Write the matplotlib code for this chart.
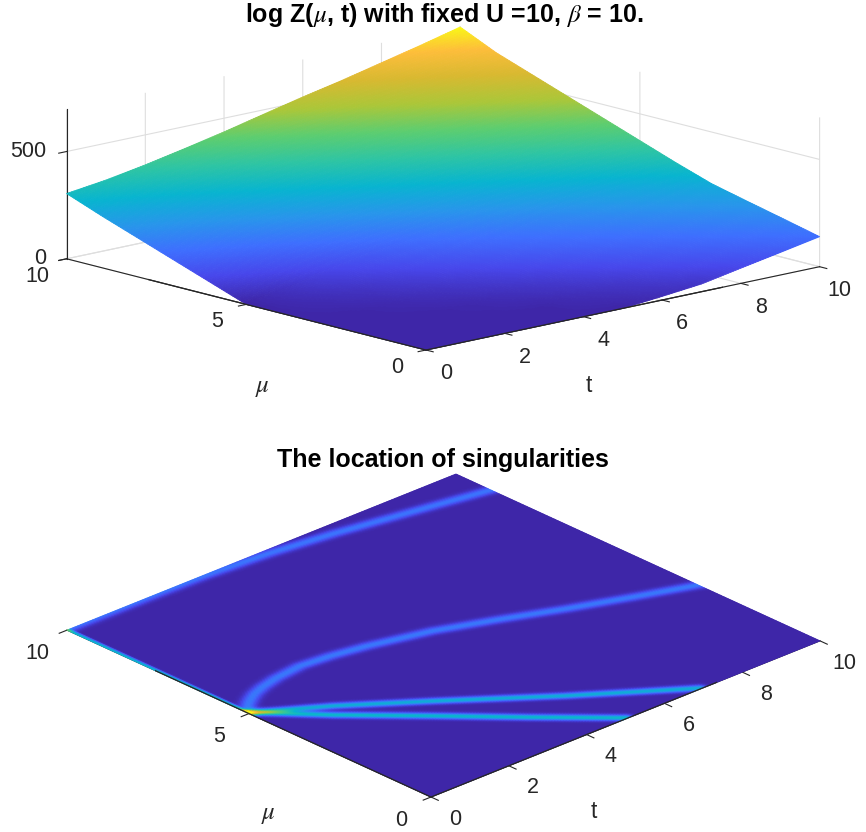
import numpy as np
import matplotlib
matplotlib.use("Agg")
import matplotlib.pyplot as plt
from matplotlib.colors import LinearSegmentedColormap
from mpl_toolkits.mplot3d import proj3d

plt.rcParams['font.family'] = ['Liberation Sans', 'DejaVu Sans']
plt.rcParams['mathtext.fontset'] = 'stix'

# ---- data ----
t_values = [0, 1, 2, 3, 4, 5, 6, 7, 8, 9, 10]
mu_values = [0, 1, 2, 3, 4, 5, 6, 7, 8, 9, 10]
logZ_mu0 = [0, 0, 0, 0, 0, 0, 17, 36, 71, 105, 140]
logZ_mu1 = [0, 0, 0, 0, 3, 20, 42, 76, 111, 145, 180]
logZ_mu2 = [0, 0, 0, 6, 23, 47, 81, 116, 150, 185, 219]
logZ_mu3 = [0, 0, 9, 26, 52, 87, 121, 156, 190, 225, 259]
logZ_mu4 = [0, 12, 29, 57, 92, 126, 161, 195, 234, 274, 315]
logZ_mu5 = [0, 28, 62, 97, 136, 175, 213, 253, 294, 334, 375]
logZ_mu6 = [60, 88, 120, 157, 196, 235, 273, 313, 354, 394, 435]
logZ_mu7 = [120, 148, 180, 217, 256, 295, 333, 373, 414, 454, 495]
logZ_mu8 = [180, 208, 240, 277, 316, 355, 393, 433, 474, 514, 555]
logZ_mu9 = [240, 268, 300, 337, 376, 415, 453, 493, 534, 574, 615]
logZ_mu10 = [304, 328, 360, 397, 436, 479, 521, 560, 603, 646, 692]

# singularity ridges: (t, mu) along each ridge, and its strength
ridge_a_t = [0, 1.08, 2.42, 3.7, 5.0]
ridge_a_mu = [5, 3.84, 2.53, 1.25, 0]
ridge_b_t = [0, 1.35, 2.87, 4.84, 6.9]
ridge_b_mu = [5, 4.13, 3.0, 1.47, 0]
ridge_c_t = [0, 0.05, 0.12, 0.2, 0.3, 0.45, 0.65, 0.95, 1.4, 2.09, 2.8, 3.6, 4.96, 6.2, 7.44, 8.7, 10]
ridge_c_mu = [5, 5.08, 5.16, 5.24, 5.32, 5.42, 5.53, 5.64, 5.75, 5.83, 5.76, 5.61, 5.25, 4.77, 4.25, 3.77, 3.3]
ridge_d_t = [0, 2.2, 3.4, 5, 6.5, 8.7, 10]
ridge_d_mu = [10, 9.98, 9.95, 9.83, 9.63, 9.24, 9.0]
ridge_e_t = [0.0, 0.0]
ridge_e_mu = [5, 10]
ridge_levels = [0.46, 0.42, 0.25, 0.24, 0.42]
ridge_widths = [0.09, 0.09, 0.11, 0.11, 0.03]

parula_stops = [(0.2422, 0.1504, 0.6603), (0.2803, 0.2782, 0.9221), (0.2440, 0.4358, 0.9988),
                (0.1540, 0.5902, 0.9218), (0.0297, 0.7082, 0.8163), (0.1802, 0.7723, 0.6418),
                (0.3633, 0.8050, 0.4400), (0.6720, 0.7793, 0.2227), (0.8500, 0.7250, 0.1900),
                (0.9932, 0.7440, 0.2300), (0.9769, 0.9839, 0.0805)]
parula = LinearSegmentedColormap.from_list('parula', parula_stops, N=256)

W, H = 866, 832
fig = plt.figure(figsize=(W / 100, H / 100), dpi=100)
INK = '#262626'


def place(ax, origin, t_end, mu_end):
    """Scale and shift the axes so the floor corners land on given pixel spots."""
    x0, x1 = ax.get_xlim3d()
    y0, y1 = ax.get_ylim3d()
    z0 = ax.get_zlim3d()[0]
    for _ in range(3):
        ax.apply_aspect()
        M = ax.get_proj()
        pts = []
        for (a, b) in [(x0, y0), (x1, y0), (x0, y1)]:
            u, v, _w = proj3d.proj_transform(a, b, z0, M)
            pts.append(ax.transData.transform((u, v)))
        O, T, Mu = pts
        s = (t_end[0] - mu_end[0]) / (T[0] - Mu[0])
        p = ax.get_position()
        size = p.width * W * s
        cx = (p.x0 + p.width / 2) * W
        cy = (p.y0 + p.height / 2) * H
        nx = cx + (O[0] - cx) * s
        ny = cy + (O[1] - cy) * s
        cx += origin[0] - nx
        cy += (H - origin[1]) - ny
        ax.set_position([(cx - size / 2) / W, (cy - size / 2) / H, size / W, size / H])


def style_axis(ax, grid):
    for axis in (ax.xaxis, ax.yaxis, ax.zaxis):
        axis.set_pane_color((1, 1, 1, 0))
        axis.pane.set_edgecolor((1, 1, 1, 0))
        axis.line.set_color(INK)
        axis.line.set_linewidth(0.8)
        axis._axinfo['grid']['color'] = '#dedede'
        axis._axinfo['grid']['linewidth'] = 0.8
        axis._axinfo['tick']['inward_factor'] = 0.25
        axis._axinfo['tick']['outward_factor'] = 0.0
        axis._axinfo['tick']['linewidth'] = {True: 0.8, False: 0.5}
        axis._axinfo['tick']['color'] = INK
    ax.tick_params(labelsize=15.5, colors=INK)
    ax.grid(grid)
    ax.patch.set_alpha(0)


def title_at(ax, text, x_px, y_px):
    p = ax.get_position()
    ax.set_title(text, fontsize=18, fontweight='bold', color='black', pad=0, va='baseline',
                 x=(x_px / W - p.x0) / p.width, y=(1 - y_px / H - p.y0) / p.height)


# ---- top panel ----
ax1 = fig.add_subplot(projection='3d', proj_type='ortho', computed_zorder=True)
Zt = np.array([logZ_mu0, logZ_mu1, logZ_mu2, logZ_mu3, logZ_mu4, logZ_mu5,
               logZ_mu6, logZ_mu7, logZ_mu8, logZ_mu9, logZ_mu10], float)
ft = np.linspace(0, 10, 161)
fm = np.linspace(0, 10, 161)
Zfine = np.array([np.interp(ft, t_values, row) for row in Zt])
Zfine = np.array([np.interp(fm, mu_values, col) for col in Zfine.T]).T
Xf, Yf = np.meshgrid(ft, fm)
s1 = ax1.plot_surface(Xf, Yf, Zfine, facecolors=parula(Zfine / Zt.max()), rcount=161, ccount=161,
                      linewidth=0.6, antialiased=True, shade=False)
s1.set_clip_on(False)
ax1.set_xlim(0, 10); ax1.set_ylim(0, 10); ax1.set_zlim(0, 696)
ax1.set_xticks([0, 2, 4, 6, 8, 10]); ax1.set_yticks([0, 5, 10]); ax1.set_zticks([0, 500])
ax1.view_init(elev=13.4, azim=-132.4)
ax1.set_box_aspect((1, 1, 0.288), zoom=1.3)
style_axis(ax1, True)
ax1.tick_params(axis='x', pad=4)
ax1.tick_params(axis='y', pad=8)
ax1.tick_params(axis='z', pad=-2.3)
for lab in ax1.get_zticklabels():
    lab.set_ha('right')
    lab.set_va('center')
for lab in ax1.get_yticklabels():
    lab.set_va('center')
ax1.plot([0, 10], [0, 0], [0, 0], color=INK, lw=0.9, zorder=100)
ax1.plot([0, 0], [0, 10], [0, 0], color=INK, lw=0.9, zorder=100)
place(ax1, (426, 350), (820, 267), (67, 259))
title_at(ax1, r'log Z($\mu$, t) with fixed U =10, $\beta$ = 10.', 444, 22 - 40)
fig.text(589 / W, 1 - 385 / H, 't', fontsize=16.5, color=INK, ha='center', va='center')
fig.text(262 / W, 1 - 387 / H, r'$\mu$', fontsize=18, color=INK, ha='center', va='center')

# ---- bottom panel ----
ax2 = fig.add_subplot(projection='3d', proj_type='ortho', computed_zorder=True)
n = 260
gt = np.linspace(0, 10, n)
gm = np.linspace(0, 10, n)
Xg, Yg = np.meshgrid(gt, gm)


def dist_to_path(px, py):
    px = np.asarray(px, float); py = np.asarray(py, float)
    d2 = np.full(Xg.shape, np.inf)
    for i in range(len(px) - 1):
        dx, dy = px[i + 1] - px[i], py[i + 1] - py[i]
        u = np.clip(((Xg - px[i]) * dx + (Yg - py[i]) * dy) / (dx * dx + dy * dy), 0, 1)
        d2 = np.minimum(d2, (Xg - px[i] - u * dx) ** 2 + (Yg - py[i] - u * dy) ** 2)
    return d2


paths = [(ridge_a_t, ridge_a_mu), (ridge_b_t, ridge_b_mu), (ridge_c_t, ridge_c_mu),
         (ridge_d_t, ridge_d_mu), (ridge_e_t, ridge_e_mu)]
field = np.zeros_like(Xg)
for (pt, pm), lev, wid in zip(paths, ridge_levels, ridge_widths):
    field += lev * np.exp(-dist_to_path(pt, pm) / (2 * wid ** 2))
colors = parula(np.clip(field / 1.1, 0, 1))
s2 = ax2.plot_surface(Xg, Yg, np.zeros_like(Xg), facecolors=colors, rcount=n, ccount=n,
                      linewidth=0.6, antialiased=True, shade=False)
s2.set_clip_on(False)
ax2.set_xlim(0, 10); ax2.set_ylim(0, 10); ax2.set_zlim(0, 1)
ax2.set_xticks([0, 2, 4, 6, 8, 10]); ax2.set_yticks([0, 5, 10]); ax2.set_zticks([])
ax2.view_init(elev=25.4, azim=-133.1)
ax2.set_box_aspect((1, 1, 0.02), zoom=1.3)
style_axis(ax2, False)
ax2.tick_params(axis='x', pad=6)
ax2.tick_params(axis='y', pad=8)
ax2.zaxis.line.set_color((1, 1, 1, 0))
ax2.plot([0, 10], [0, 0], [0, 0], color=INK, lw=0.9, zorder=100)
ax2.plot([0, 0], [0, 10], [0, 0], color=INK, lw=0.9, zorder=100)
place(ax2, (431, 797), (820, 641), (67, 630))
title_at(ax2, 'The location of singularities', 443, 466 - 38)
fig.text(594 / W, 1 - 812 / H, 't', fontsize=16.5, color=INK, ha='center', va='center')
fig.text(268 / W, 1 - 814 / H, r'$\mu$', fontsize=18, color=INK, ha='center', va='center')

fig.savefig('out.png', dpi=100)
